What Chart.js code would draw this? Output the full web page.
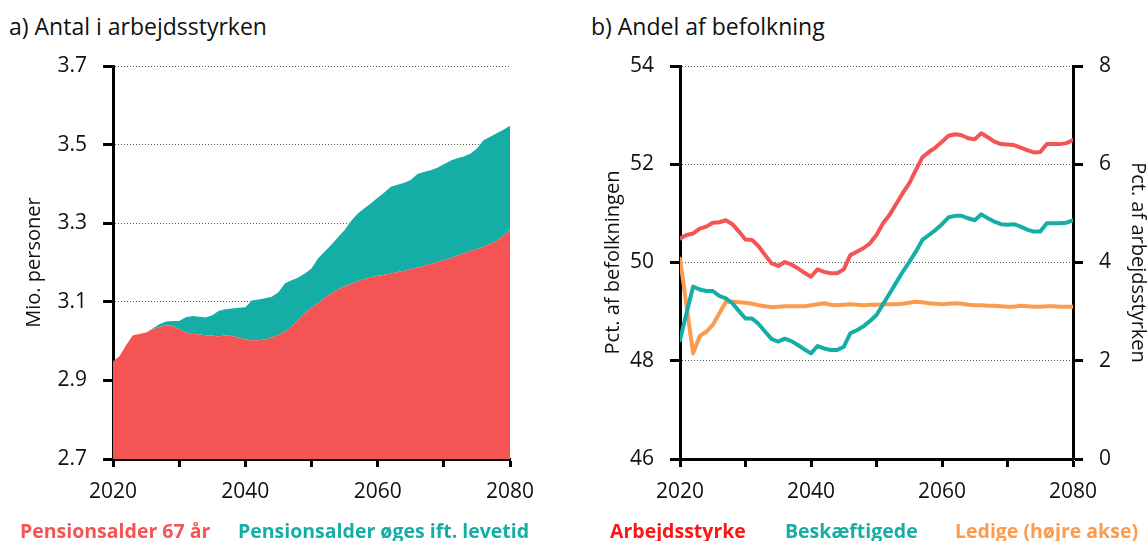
<!DOCTYPE html>
<html>
<head>
<meta charset="utf-8">
<script src="https://cdn.jsdelivr.net/npm/chart.js"></script>
<style>
  body { margin: 0; background: #fff; width: 1147px; height: 541px; overflow: hidden; position: relative; font-family: 'Open Sans', sans-serif; }
  canvas { position: absolute; top: 0; }
  #cA { left: 0; }
  #cB { left: 580px; }
  .title { position: absolute; top: 13px; font-size: 23px; line-height: 26px; color: #111; white-space: nowrap; }
  .leg { position: absolute; top: 521px; font-size: 19.5px; line-height: 20px; font-weight: 700; white-space: nowrap; }
</style>
</head>
<body>
<div class="title" style="left:9px">a) Antal i arbejdsstyrken</div>
<div class="title" style="left:591px">b) Andel af befolkning</div>
<canvas id="cA" width="560" height="541"></canvas>
<canvas id="cB" width="567" height="541"></canvas>
<div class="leg" id="l0" style="left:20px"></div>
<div class="leg" id="l1" style="left:238px"></div>
<div class="leg" id="l2" style="left:610px"></div>
<div class="leg" id="l3" style="left:785px"></div>
<div class="leg" id="l4" style="left:955px"></div>
<script>
const RED = '#f45454';
const TEAL = '#15aea6';
const ORANGE = '#fb9b4d';
const LEG_RED = '#ff1414';

const years = [2020, 2021, 2022, 2023, 2024, 2025, 2026, 2027, 2028, 2029,
  2030, 2031, 2032, 2033, 2034, 2035, 2036, 2037, 2038, 2039,
  2040, 2041, 2042, 2043, 2044, 2045, 2046, 2047, 2048, 2049,
  2050, 2051, 2052, 2053, 2054, 2055, 2056, 2057, 2058, 2059,
  2060, 2061, 2062, 2063, 2064, 2065, 2066, 2067, 2068, 2069,
  2070, 2071, 2072, 2073, 2074, 2075, 2076, 2077, 2078, 2079, 2080];

// a) mio. personer
const pension67 = [2.948, 2.962, 2.990, 3.015, 3.018, 3.022, 3.030, 3.036, 3.040, 3.039,
  3.030, 3.022, 3.019, 3.017, 3.015, 3.014, 3.012, 3.015, 3.013, 3.009,
  3.004, 3.002, 3.002, 3.004, 3.010, 3.016, 3.024, 3.038, 3.055, 3.072,
  3.085, 3.097, 3.110, 3.122, 3.131, 3.139, 3.146, 3.152, 3.158, 3.162,
  3.166, 3.169, 3.172, 3.176, 3.179, 3.183, 3.187, 3.191, 3.196, 3.201,
  3.206, 3.211, 3.217, 3.223, 3.229, 3.234, 3.240, 3.247, 3.256, 3.268, 3.283];
const pensionLevetid = [2.948, 2.962, 2.990, 3.015, 3.018, 3.022, 3.032, 3.043, 3.050, 3.051,
  3.051, 3.061, 3.064, 3.062, 3.060, 3.066, 3.077, 3.081, 3.083, 3.085,
  3.086, 3.103, 3.106, 3.109, 3.113, 3.124, 3.147, 3.155, 3.162, 3.172,
  3.185, 3.211, 3.228, 3.245, 3.264, 3.283, 3.306, 3.325, 3.338, 3.351,
  3.365, 3.378, 3.393, 3.398, 3.403, 3.410, 3.425, 3.430, 3.435, 3.441,
  3.450, 3.459, 3.465, 3.470, 3.477, 3.490, 3.511, 3.520, 3.529, 3.538, 3.548];

// b) pct.
const arbejdsstyrke = [50.49, 50.56, 50.59, 50.69, 50.73, 50.81, 50.82, 50.86, 50.78, 50.63,
  50.47, 50.46, 50.33, 50.15, 49.98, 49.93, 50.01, 49.96, 49.88, 49.79,
  49.71, 49.86, 49.81, 49.78, 49.78, 49.86, 50.15, 50.22, 50.29, 50.39,
  50.56, 50.80, 50.97, 51.19, 51.41, 51.61, 51.88, 52.14, 52.25, 52.34,
  52.46, 52.58, 52.61, 52.59, 52.53, 52.51, 52.63, 52.55, 52.46, 52.41,
  52.40, 52.39, 52.34, 52.29, 52.24, 52.25, 52.41, 52.41, 52.41, 52.43, 52.49];
const beskaeftigede = [48.42, 48.97, 49.51, 49.45, 49.42, 49.42, 49.32, 49.27, 49.17, 49.01,
  48.86, 48.86, 48.75, 48.59, 48.44, 48.39, 48.45, 48.40, 48.32, 48.23,
  48.15, 48.30, 48.25, 48.22, 48.22, 48.28, 48.56, 48.62, 48.70, 48.81,
  48.93, 49.15, 49.37, 49.59, 49.81, 50.01, 50.22, 50.46, 50.56, 50.66,
  50.78, 50.92, 50.95, 50.95, 50.90, 50.86, 50.98, 50.90, 50.83, 50.78,
  50.77, 50.78, 50.73, 50.67, 50.63, 50.63, 50.80, 50.80, 50.80, 50.81, 50.86];
const ledige = [4.08, 3.12, 2.15, 2.50, 2.59, 2.73, 2.96, 3.20, 3.20, 3.19,
  3.18, 3.16, 3.13, 3.11, 3.09, 3.10, 3.11, 3.11, 3.11, 3.11,
  3.13, 3.15, 3.17, 3.14, 3.13, 3.14, 3.15, 3.14, 3.13, 3.14,
  3.14, 3.15, 3.15, 3.15, 3.16, 3.18, 3.20, 3.19, 3.17, 3.16,
  3.15, 3.16, 3.17, 3.16, 3.14, 3.13, 3.13, 3.12, 3.12, 3.11,
  3.10, 3.10, 3.12, 3.11, 3.10, 3.10, 3.11, 3.11, 3.10, 3.10, 3.10];

const labelsA = ['Pensionsalder 67 år', 'Pensionsalder øges ift. levetid'];
const labelsB = ['Arbejdsstyrke', 'Beskæftigede', 'Ledige (højre akse)'];

Chart.defaults.font.family = "'Open Sans', sans-serif";
Chart.defaults.font.size = 21;
Chart.defaults.color = '#111';

const pts = (vals) => years.map((yr, i) => ({ x: yr, y: vals[i] }));

const xAxis = {
  type: 'linear', min: 2020, max: 2080,
  afterFit: (s) => { s.height = 82; },
  ticks: { stepSize: 10, autoSkip: false, maxRotation: 0, padding: 12,
    callback: (v) => (v % 20 === 0 ? String(v) : '') },
  grid: { drawOnChartArea: false, tickLength: 8, tickWidth: 3, tickColor: '#000' },
  border: { color: '#000', width: 3 }
};

new Chart(document.getElementById('cA'), {
  type: 'line',
  data: {
    datasets: [
      { label: labelsA[0], data: pts(pension67), backgroundColor: RED, borderWidth: 0, fill: 'start', pointRadius: 0 },
      { label: labelsA[1], data: pts(pensionLevetid), backgroundColor: TEAL, borderWidth: 0, fill: '-1', pointRadius: 0 }
    ]
  },
  options: {
    responsive: false,
    animation: false,
    layout: { padding: { top: 66, right: 50, left: 0, bottom: 0 } },
    plugins: { legend: { display: false }, tooltip: { enabled: false } },
    scales: {
      x: xAxis,
      y: {
        min: 2.7, max: 3.7,
        afterFit: (s) => { s.width = 113; },
        ticks: { stepSize: 0.2, padding: 16, callback: (v) => v.toFixed(1) },
        grid: { color: '#555', lineWidth: 1, tickLength: 10, tickWidth: 3, tickColor: '#000' },
        border: { color: '#000', width: 3, dash: [1, 2] },
        title: { display: true, text: 'Mio. personer', font: { size: 20 }, padding: { top: 22, bottom: 0 } }
      }
    }
  }
});

new Chart(document.getElementById('cB'), {
  type: 'line',
  data: {
    datasets: [
      { label: labelsB[0], data: pts(arbejdsstyrke), borderColor: RED, yAxisID: 'y' },
      { label: labelsB[1], data: pts(beskaeftigede), borderColor: TEAL, yAxisID: 'y' },
      { label: labelsB[2], data: pts(ledige), borderColor: ORANGE, yAxisID: 'y1' }
    ]
  },
  options: {
    responsive: false,
    animation: false,
    layout: { padding: { top: 66, right: 0, left: 0, bottom: 0 } },
    elements: { line: { borderWidth: 4, tension: 0, fill: false, borderJoinStyle: 'round', borderCapStyle: 'round' }, point: { radius: 0 } },
    plugins: { legend: { display: false }, tooltip: { enabled: false } },
    scales: {
      x: xAxis,
      y: {
        position: 'left', min: 46, max: 54,
        afterFit: (s) => { s.width = 100; },
        ticks: { stepSize: 2, padding: 16 },
        grid: { color: '#555', lineWidth: 1, tickLength: 10, tickWidth: 3, tickColor: '#000' },
        border: { color: '#000', width: 3, dash: [1, 2] },
        title: { display: true, text: 'Pct. af befolkningen', font: { size: 20 }, padding: { top: 21, bottom: 0 } }
      },
      y1: {
        position: 'right', min: 0, max: 8,
        afterFit: (s) => { s.width = 74; },
        ticks: { stepSize: 2, padding: 16 },
        grid: { drawOnChartArea: false, tickLength: 10, tickWidth: 3, tickColor: '#000' },
        border: { color: '#000', width: 3 },
        title: { display: true, text: 'Pct. af arbejdsstyrken', font: { size: 20 }, padding: { top: -3, bottom: 0 } }
      }
    }
  }
});

const legColors = [RED, TEAL, LEG_RED, TEAL, ORANGE];
labelsA.concat(labelsB).forEach((t, i) => {
  const el = document.getElementById('l' + i);
  el.textContent = t;
  el.style.color = legColors[i];
});
</script>
</body>
</html>
